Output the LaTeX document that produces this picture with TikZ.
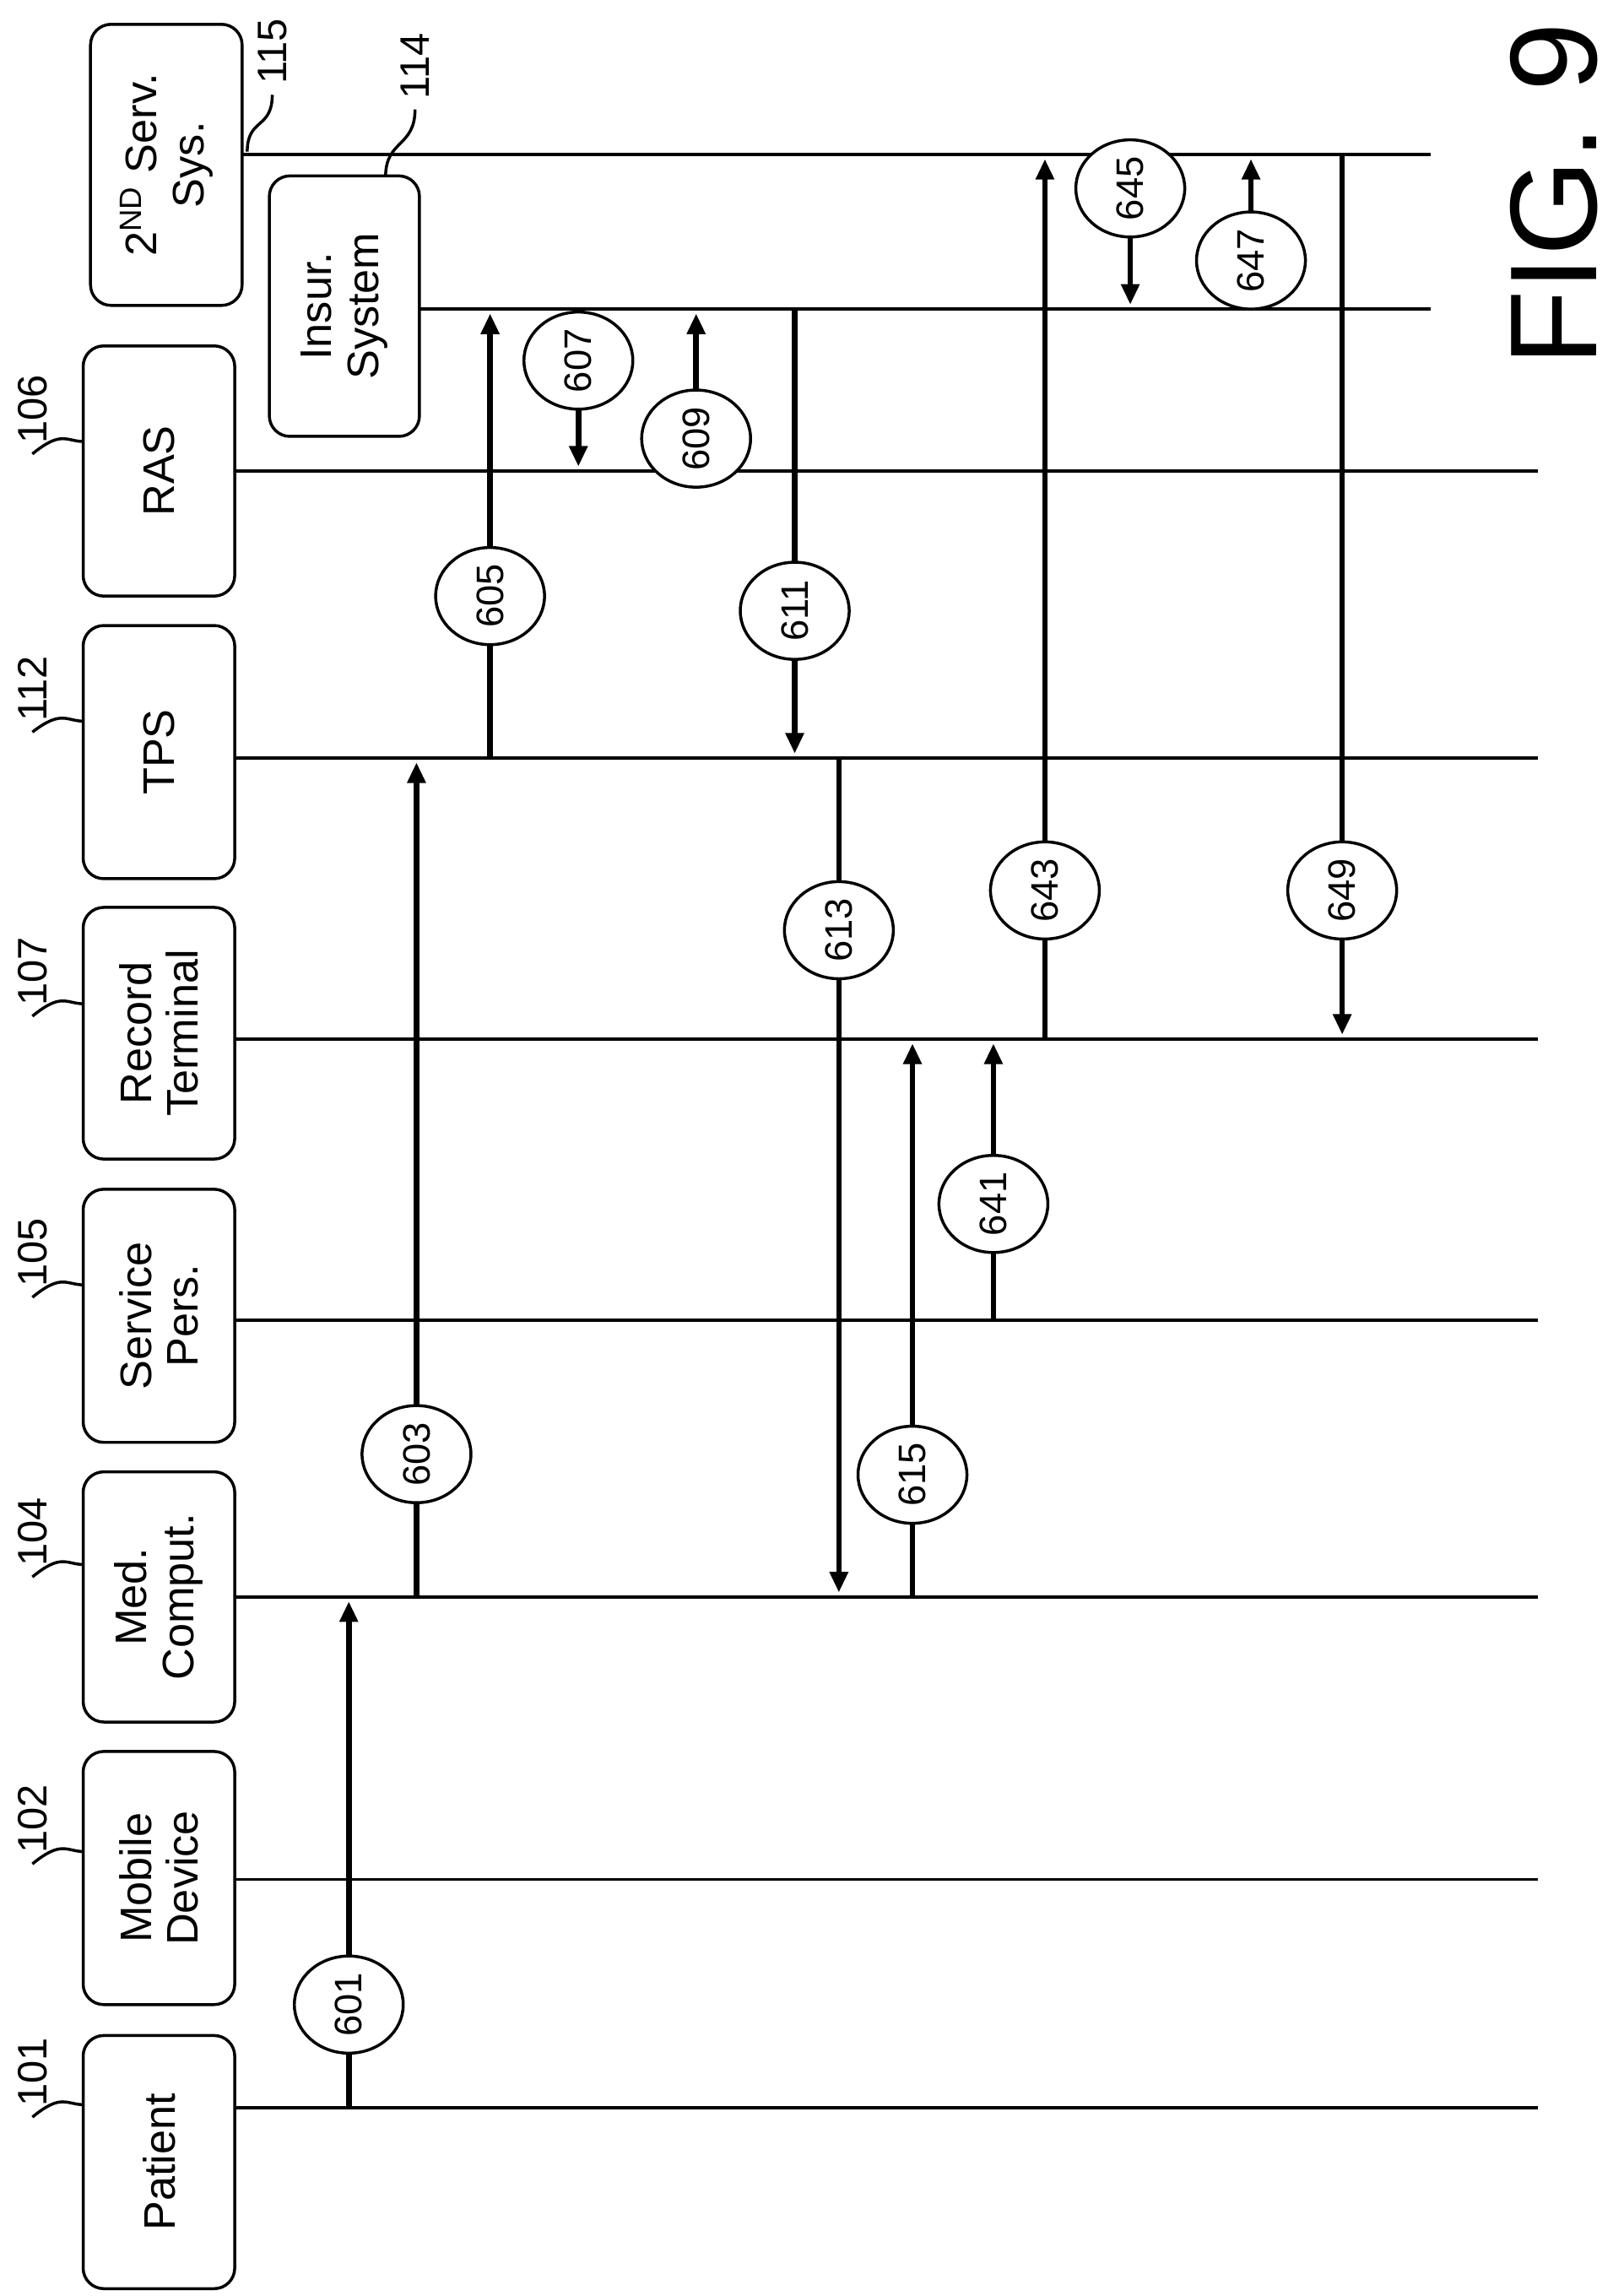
\documentclass[tikz,border=0pt]{standalone}
\usepackage{fontspec}
\setmainfont{Liberation Sans}
\usetikzlibrary{shapes.geometric,arrows.meta}
\begin{document}
\begin{tikzpicture}[x=0.5pt,y=-0.5pt,
  life/.style={line width=1pt},
  box/.style={draw,line width=1pt,rounded corners=7pt,rotate=90,align=center,font=\fontsize{15}{16}\selectfont},
  msg/.style={line width=1.9pt,-{Triangle[length=7pt,width=6pt]}},
  num/.style={draw,fill=white,ellipse,line width=1pt,rotate=90,inner sep=0pt,minimum width=33pt,minimum height=37pt,font=\fontsize{13}{14}\selectfont},
  ref/.style={rotate=90,font=\fontsize{14}{15}\selectfont},
  lead/.style={line width=1pt}]
\useasboundingbox (0,0) rectangle (1103,1560);
% lifelines
\foreach \n/\y/\xs/\xe in {p/1432/160/1045,m/1277/160/1045,c/1085/160/1045,s/897/160/1045,r/706/160/1045,t/515/160/1045,a/320/160/1045,i/210/285/972,v/105/165/972}{
  \coordinate (\n0) at (\xs,\y); \coordinate (\n1) at (\xe,\y);
  \draw[life] (\n0) -- (\n1);}
% boxes
\node[box,minimum width=172pt/2,minimum height=103pt/2] (bp) at (108,1469) {Patient};
\node[box,minimum width=172pt/2,minimum height=103pt/2] (bm) at (108,1276) {Mobile\\Device};
\node[box,minimum width=170pt/2,minimum height=103pt/2] (bc) at (108,1085) {Med.\\Comput.};
\node[box,minimum width=172pt/2,minimum height=103pt/2] (bs) at (108,894) {Service\\Pers.};
\node[box,minimum width=171pt/2,minimum height=103pt/2] (br) at (108,702) {Record\\Terminal};
\node[box,minimum width=172pt/2,minimum height=103pt/2] (bt) at (108,511) {TPS};
\node[box,minimum width=170pt/2,minimum height=103pt/2] (ba) at (108,320) {RAS};
\node[box,minimum width=191pt/2,minimum height=103pt/2] (bv) at (113,112) {2\textsuperscript{ND} Serv.\\Sys.};
\node[box,minimum width=177pt/2,minimum height=102pt/2] (bi) at (234,208) {Insur.\\System};
% reference numerals
\foreach \nm/\y/\t in {r101/1408/101,r102/1236/102,r104/1041/104,r105/851/105,r107/660/107,r112/468/112,r106/278/106}{
  \node[ref] (\nm) at (22,\y) {\t};
  \draw[lead] (57,\y+22) .. controls (45,\y+22) and (42,\y+14) .. (\nm.west);}
\node[ref] (r115) at (185,35) {115};
\draw[lead] (168,103) .. controls (168,80) and (185,88) .. (r115.west);
\node[ref] (r114) at (282,45) {114};
\draw[lead] (262,120) .. controls (262,95) and (282,100) .. (r114.west);
% messages
\newcommand\msgx[5]{% x, from y, to y, label y, label
  \coordinate (f#5) at (#1,#2); \coordinate (e#5) at (#1,#3);
  \draw[msg] (f#5) -- (e#5);
  \node[num] (n#5) at (#1,#4) {#5};}
\msgx{237}{1432}{1088}{1362}{601}
\msgx{283}{1085}{518}{988}{603}
\msgx{333}{515}{213}{405}{605}
\msgx{393}{210}{317}{245}{607}
\msgx{473}{320}{213}{298}{609}
\msgx{540}{210}{512}{415}{611}
\msgx{570}{515}{1082}{632}{613}
\msgx{620}{1085}{709}{1002}{615}
\msgx{675}{897}{709}{818}{641}
\msgx{710}{706}{108}{605}{643}
\msgx{768}{105}{207}{128}{645}
\msgx{850}{210}{108}{177}{647}
\msgx{912}{105}{703}{605}{649}
\node[rotate=90,font=\fontsize{42}{42}\selectfont] (fig) at (1056,132) {FIG. 9};
\end{tikzpicture}
\end{document}
